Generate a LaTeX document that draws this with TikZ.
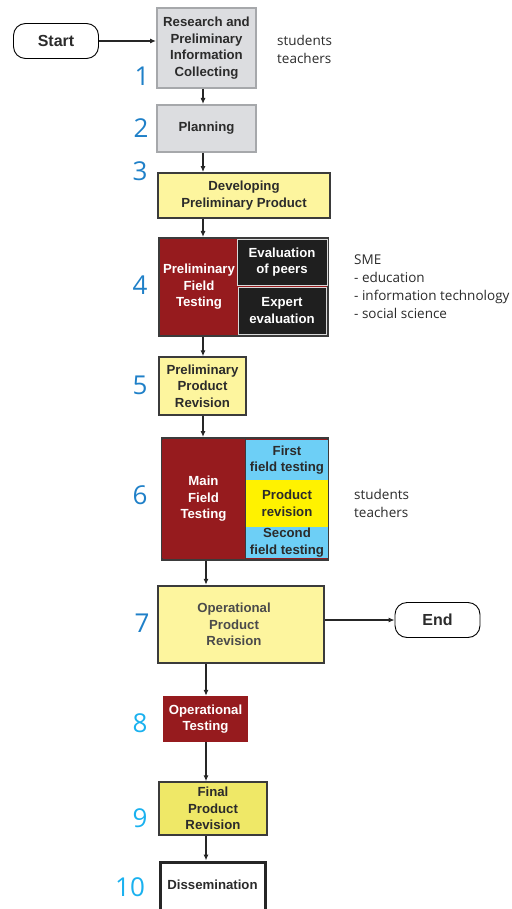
\documentclass[tikz,border=0pt]{standalone}
\usepackage{fontspec}
\setmainfont{Liberation Sans}
\newfontfamily\notefont{Open Sans}
\usetikzlibrary{arrows.meta}

\definecolor{panelgray}{HTML}{DCDDE0}
\definecolor{edgegray}{HTML}{A6A8AB}
\definecolor{paleyellow}{HTML}{FDF59E}
\definecolor{olive}{HTML}{EFE867}
\definecolor{brickred}{HTML}{961B1E}
\definecolor{skyblue}{HTML}{6DCFF6}
\definecolor{lemon}{HTML}{FFF200}
\definecolor{darkedge}{HTML}{3B3B3B}
\definecolor{txtgray}{HTML}{2B2B2B}
\definecolor{stepblue}{HTML}{1F80C8}
\definecolor{stepcyan}{HTML}{1AB1EF}

\newcommand{\boxfont}{\fontsize{13.2}{16.5}\selectfont\bfseries}

\tikzset{
  stepbox/.style={draw, align=center, font=\boxfont, text=txtgray, inner sep=0pt},
  graybox/.style={stepbox, draw=edgegray, fill=panelgray, line width=2pt},
  yellowbox/.style={stepbox, draw=darkedge, fill=paleyellow, line width=1.8pt},
  redbox/.style={stepbox, draw=none, fill=brickred, text=white},
  blackbox/.style={stepbox, draw=white!85!black, fill=black!88, text=white, line width=0.8pt},
  bluebox/.style={stepbox, draw=none, fill=skyblue},
  terminal/.style={draw, rounded corners=12pt, line width=0.9pt, font=\fontsize{16}{16}\selectfont\bfseries, text=txtgray, minimum width=85, minimum height=35},
  stepnum/.style={font=\notefont\fontsize{26}{26}\selectfont, text=stepblue, inner sep=0pt},
  note/.style={font=\notefont\fontsize{13.5}{18}\selectfont, text=txtgray, align=left, anchor=west, inner sep=0pt},
  flow/.style={-{Latex[length=6pt,width=5pt]}, line width=1.1pt, draw=black!85}
}

\begin{document}
\begin{tikzpicture}[x=1pt,y=1pt,yscale=-1]
\useasboundingbox (0,0) rectangle (511,909);

% spines of the flow
\coordinate (spineup) at (203,0);
\coordinate (spinelow) at (206,0);

% start and first steps
\node[terminal] (start) at (56,41) {Start};
\node[graybox, minimum width=99, minimum height=80] (research) at (206.5,48) {Research and\\Preliminary\\Information\\Collecting};
\node[graybox, minimum width=99, minimum height=47] (planning) at (206.5,128.5) {Planning};
\node[yellowbox, minimum width=172, minimum height=45] (develop) at (244,195.5) {Developing\\Preliminary Product};

% step 4
\node[stepbox, draw=darkedge, line width=2pt, fill=brickred, minimum width=169, minimum height=98] (fieldfour) at (243.5,287) {};
\node[redbox, minimum width=76, minimum height=94] (prelim) at (199,287) {Preliminary\\Field\\Testing};
\node[blackbox, minimum width=90, minimum height=46] (peers) at (282,262) {Evaluation\\of peers};
\node[blackbox, minimum width=88, minimum height=47] (expert) at (282,310.5) {Expert\\evaluation};

\node[yellowbox, line width=1.4pt, minimum width=87, minimum height=58] (revision) at (202.5,386) {Preliminary\\Product\\Revision};

% step 6
\node[stepbox, draw=darkedge, line width=2pt, fill=brickred, minimum width=166, minimum height=122] (fieldsix) at (245,499) {};
\node[redbox, minimum width=83, minimum height=118] (mainfield) at (203.5,499) {Main\\Field\\Testing};
\node[bluebox, minimum width=82, minimum height=40] (first) at (287,460) {First\\field testing};
\node[stepbox, draw=none, fill=lemon, minimum width=82, minimum height=47] (prodrev) at (287,503.5) {Product\\revision};
\node[bluebox, minimum width=82, minimum height=31] (second) at (287,542.5) {Second\\field testing};
\draw[darkedge, line width=1.2pt] (fieldsix.north -| first.west) -- (fieldsix.south -| first.west);

% later steps
\node[yellowbox, line width=2.4pt, minimum width=166, minimum height=77, text=txtgray!85] (operational) at (241,624.5) {\mbox{}\hspace{-14pt}Operational\\\hspace{-14pt}Product\\\hspace{-14pt}Revision};
\node[terminal] (end) at (437.5,620) {End};
\node[redbox, minimum width=85, minimum height=46] (optesting) at (205.5,719) {Operational\\Testing};
\node[yellowbox, fill=olive, line width=1.4pt, minimum width=108, minimum height=53] (final) at (213,808.5) {Final\\Product\\Revision};
\node[stepbox, fill=white, draw=black!85, line width=3pt, minimum width=105, minimum height=50, text depth=0pt] (dissem) at (212.5,887) {\raisebox{4pt}{Dissemination}};

% step numbers
\node[stepnum] (n1) at (142,76) {1};
\node[stepnum] (n2) at (141,128) {2};
\node[stepnum] (n3) at (140,171) {3};
\node[stepnum] (n4) at (140,285) {4};
\node[stepnum] (n5) at (140,385) {5};
\node[stepnum] (n6) at (140,495) {6};
\node[stepnum] (n7) at (142,623) {7};
\node[stepnum, text=stepcyan] (n8) at (140,723) {8};
\node[stepnum, text=stepcyan] (n9) at (140,818) {9};
\node[stepnum, text=stepcyan] (n10) at (130,887) {10};

% side notes
\node[note] (who1) at (277,49) {students\\teachers};
\node[note] (sme) at (354,287) {SME\\- education\\- information technology\\- social science};
\node[note] (who6) at (354,503) {students\\teachers};

% connectors
\draw[flow] (start) -- (start -| research.west);
\draw[flow] (research.south -| spineup) -- (planning.north -| spineup);
\draw[flow] (planning.south -| spineup) -- (develop.north -| spineup);
\draw[flow] (develop.south -| spineup) -- (fieldfour.north -| spineup);
\draw[flow] (fieldfour.south -| spineup) -- (revision.north -| spineup);
\draw[flow] (revision.south -| spineup) -- (fieldsix.north -| spineup);
\draw[flow] (fieldsix.south -| spinelow) -- (operational.north -| spinelow);
\draw[flow] (operational.east |- end) -- (end);
\draw[flow] (operational.south -| spinelow) -- (optesting.north -| spinelow);
\draw[flow] (optesting.south -| spinelow) -- (final.north -| spinelow);
\draw[flow] (final.south -| spinelow) -- (dissem.north -| spinelow);
\end{tikzpicture}
\end{document}
